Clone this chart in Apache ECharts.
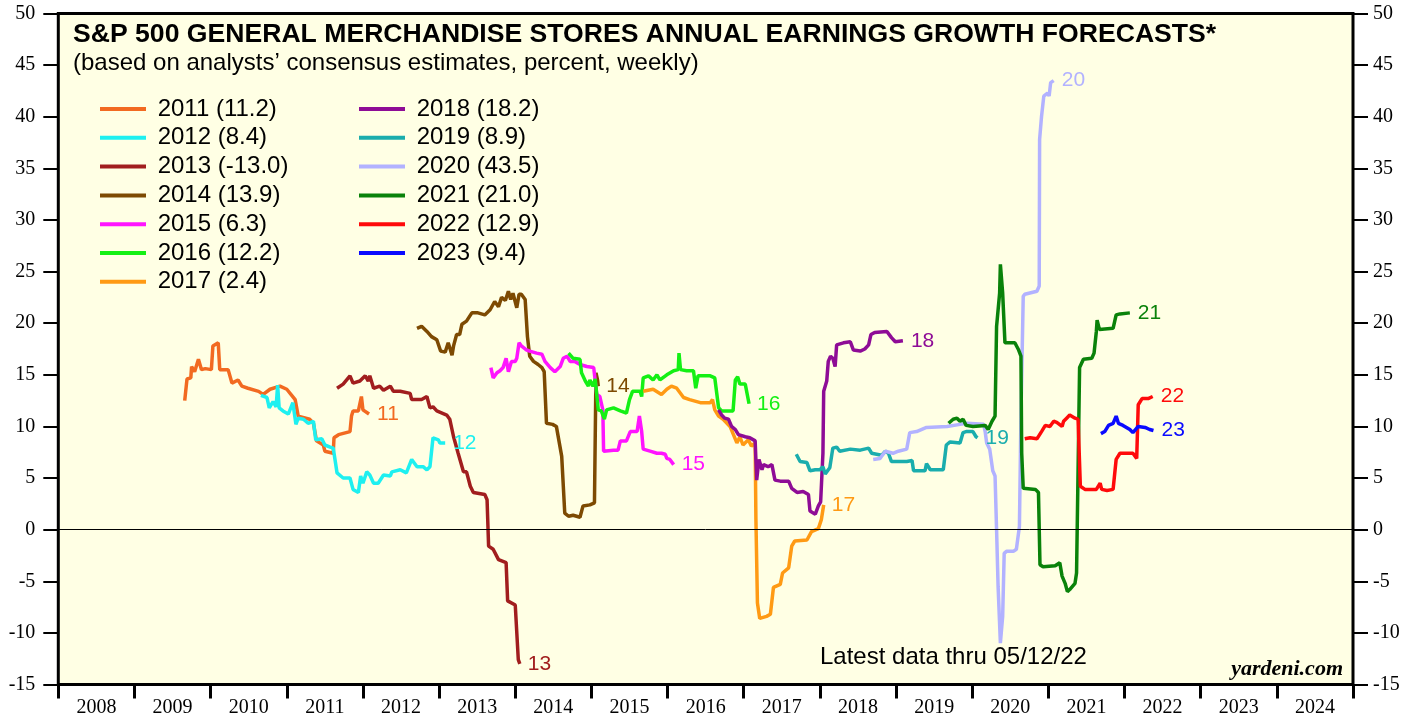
<!DOCTYPE html>
<html>
<head>
<meta charset="utf-8">
<script src="https://cdn.jsdelivr.net/npm/echarts@6/dist/echarts.min.js"></script>
<style>html, body { margin: 0; padding: 0; background: #fff; }</style>
</head>
<body>
<div id="main" style="width: 1421px; height: 719px"></div>
<script>
// x labels (one band per calendar year)
const yearLabels = ['2008', '2009', '2010', '2011', '2012', '2013', '2014', '2015', '2016',
                    '2017', '2018', '2019', '2020', '2021', '2022', '2023', '2024'];

const forecastYears = ['2011', '2012', '2013', '2014', '2015', '2016', '2017',
                       '2018', '2019', '2020', '2021', '2022', '2023'];
const finalValues = ['11.2', '8.4', '-13.0', '13.9', '6.3', '12.2', '2.4',
                     '18.2', '8.9', '43.5', '21.0', '12.9', '9.4'];

// [decimal year, growth forecast %]
const y2011 = [[2009.66,12.5],[2009.69,14.6],[2009.74,14.7],[2009.75,15.8],[2009.79,15.3],[2009.84,16.5],
  [2009.88,15.5],[2009.93,15.6],[2010.01,15.5],[2010.03,17.8],[2010.10,18.1],[2010.12,15.5],[2010.23,15.5],
  [2010.28,14.2],[2010.36,14.5],[2010.41,13.9],[2010.49,13.7],[2010.63,13.4],[2010.69,13.1],[2010.78,13.6],
  [2010.91,13.9],[2011.00,13.6],[2011.11,12.6],[2011.15,11.0],[2011.30,10.7],[2011.35,10.3],[2011.39,8.6],
  [2011.48,8.2],[2011.50,7.6],[2011.61,7.4],[2011.62,8.9],[2011.68,9.2],[2011.83,9.5],[2011.85,11.0],
  [2011.87,11.5],[2011.94,11.5],[2011.98,12.9],[2012.00,11.6],[2012.08,11.2]];

const y2012 = [[2010.66,13.0],[2010.74,12.8],[2010.77,11.8],[2010.82,12.4],[2010.86,11.9],[2010.88,14.0],
  [2010.90,11.8],[2010.95,11.5],[2011.02,11.2],[2011.08,12.3],[2011.12,10.2],[2011.15,10.8],[2011.22,10.7],
  [2011.28,10.3],[2011.35,10.5],[2011.38,8.7],[2011.46,8.8],[2011.50,8.2],[2011.57,8.0],[2011.61,7.9],
  [2011.66,5.5],[2011.74,5.0],[2011.83,5.0],[2011.87,3.9],[2011.94,3.6],[2011.97,5.2],[2012.00,4.5],
  [2012.05,5.6],[2012.09,5.3],[2012.14,4.5],[2012.20,4.5],[2012.27,5.3],[2012.36,5.2],[2012.38,5.6],
  [2012.49,5.8],[2012.57,5.5],[2012.64,6.8],[2012.71,6.1],[2012.79,6.1],[2012.84,5.8],[2012.88,6.1],
  [2012.92,8.9],[2012.99,8.7],[2013.01,8.4],[2013.08,8.4]];

const y2013 = [[2011.66,13.7],[2011.74,14.1],[2011.83,14.9],[2011.87,14.2],[2011.96,14.4],[2012.03,14.9],
  [2012.07,14.4],[2012.09,14.9],[2012.14,13.7],[2012.22,13.9],[2012.27,13.5],[2012.36,13.9],[2012.40,13.4],
  [2012.49,13.4],[2012.62,13.2],[2012.64,12.6],[2012.77,12.6],[2012.84,12.9],[2012.88,11.8],[2012.92,11.9],
  [2012.97,11.5],[2013.10,11.1],[2013.14,10.7],[2013.19,9.0],[2013.25,7.4],[2013.32,5.6],[2013.36,5.6],
  [2013.41,4.2],[2013.45,3.6],[2013.60,3.4],[2013.63,2.9],[2013.65,-1.6],[2013.71,-1.9],[2013.78,-2.9],
  [2013.88,-3.2],[2013.90,-6.9],[2014.00,-7.3],[2014.04,-12.6],[2014.06,-13.0]];

const y2014 = [[2012.71,19.5],[2012.77,19.7],[2012.84,19.2],[2012.90,18.7],[2012.97,18.4],[2013.02,17.3],
  [2013.08,17.2],[2013.12,18.1],[2013.17,16.9],[2013.19,17.8],[2013.23,18.9],[2013.27,18.9],[2013.30,19.9],
  [2013.36,20.2],[2013.43,21.0],[2013.51,21.0],[2013.60,20.8],[2013.67,21.3],[2013.73,22.1],[2013.78,21.6],
  [2013.82,22.5],[2013.87,22.2],[2013.91,23.1],[2013.94,22.3],[2013.97,22.9],[2014.02,21.5],[2014.05,22.8],
  [2014.08,22.8],[2014.13,22.3],[2014.16,18.7],[2014.19,16.8],[2014.24,16.3],[2014.30,16.0],[2014.35,15.7],
  [2014.38,15.3],[2014.41,10.3],[2014.49,10.2],[2014.54,10.0],[2014.61,7.1],[2014.65,1.6],[2014.70,1.3],
  [2014.76,1.4],[2014.85,1.2],[2014.89,2.3],[2014.98,2.4],[2015.04,2.6],[2015.06,15.2],[2015.08,14.5],
  [2015.09,13.9]];

const y2015 = [[2013.68,15.7],[2013.71,14.7],[2013.76,15.2],[2013.80,15.4],[2013.84,15.7],[2013.88,16.6],
  [2013.91,15.3],[2013.95,16.3],[2014.00,16.3],[2014.02,16.6],[2014.05,18.1],[2014.08,17.8],[2014.15,17.4],
  [2014.19,17.3],[2014.28,17.1],[2014.35,17.0],[2014.39,16.3],[2014.46,15.7],[2014.52,15.3],[2014.59,15.8],
  [2014.63,16.6],[2014.68,16.8],[2014.72,16.3],[2014.78,16.3],[2014.85,16.0],[2014.94,15.8],[2015.03,15.7],
  [2015.07,13.1],[2015.11,12.9],[2015.15,11.6],[2015.16,7.6],[2015.29,7.7],[2015.35,7.7],[2015.38,8.6],
  [2015.46,8.6],[2015.51,9.5],[2015.60,9.5],[2015.63,11.0],[2015.66,9.5],[2015.68,7.8],[2015.77,7.6],
  [2015.86,7.4],[2015.92,7.4],[2015.97,7.3],[2015.99,6.9],[2016.03,6.8],[2016.08,6.3]];

const y2016 = [[2014.70,17.1],[2014.76,16.6],[2014.85,16.5],[2014.87,15.2],[2014.92,14.4],[2014.96,13.9],
  [2014.98,14.5],[2015.02,13.9],[2015.05,14.6],[2015.09,11.6],[2015.13,11.5],[2015.17,10.7],[2015.20,11.6],
  [2015.29,11.8],[2015.38,11.5],[2015.46,11.3],[2015.50,12.6],[2015.54,13.4],[2015.64,13.4],[2015.66,12.9],
  [2015.68,14.7],[2015.75,14.9],[2015.81,14.5],[2015.86,15.0],[2015.90,14.5],[2015.99,15.0],[2016.08,15.4],
  [2016.14,15.5],[2016.15,17.1],[2016.17,15.5],[2016.25,15.4],[2016.34,15.4],[2016.37,13.7],[2016.40,14.9],
  [2016.56,14.9],[2016.62,14.7],[2016.67,11.8],[2016.71,11.5],[2016.86,11.5],[2016.89,14.5],[2016.92,14.8],
  [2016.95,14.1],[2017.02,14.1],[2017.07,12.2]];

const y2017 = [[2015.68,13.4],[2015.81,13.6],[2015.92,13.1],[2015.99,13.6],[2016.05,13.9],[2016.12,13.7],
  [2016.21,12.8],[2016.29,12.6],[2016.43,12.3],[2016.56,12.3],[2016.59,12.6],[2016.62,11.6],[2016.67,11.0],
  [2016.73,10.7],[2016.82,10.0],[2016.91,8.4],[2016.95,9.0],[2016.99,8.2],[2017.06,8.7],[2017.10,8.1],
  [2017.15,8.4],[2017.16,1.0],[2017.18,-7.1],[2017.21,-8.6],[2017.30,-8.4],[2017.35,-8.2],[2017.39,-5.6],
  [2017.48,-5.3],[2017.51,-4.2],[2017.59,-3.7],[2017.63,-1.6],[2017.67,-1.1],[2017.83,-1.0],[2017.89,-0.2],
  [2017.98,0.1],[2018.02,1.0],[2018.05,2.4]];

const y2018 = [[2016.67,11.6],[2016.71,11.1],[2016.75,10.8],[2016.80,10.7],[2016.84,10.0],[2016.89,9.7],
  [2016.93,9.2],[2017.02,9.0],[2017.08,8.9],[2017.15,8.6],[2017.17,4.8],[2017.20,6.8],[2017.24,5.8],
  [2017.26,6.3],[2017.32,6.1],[2017.37,6.3],[2017.41,4.8],[2017.48,4.7],[2017.59,4.7],[2017.63,4.0],
  [2017.70,3.6],[2017.78,3.7],[2017.85,3.4],[2017.87,1.8],[2017.94,1.5],[2017.98,2.3],[2018.01,2.7],
  [2018.04,7.4],[2018.05,13.4],[2018.09,14.4],[2018.11,16.3],[2018.14,16.8],[2018.17,16.6],[2018.20,15.8],
  [2018.22,17.9],[2018.31,18.1],[2018.40,18.2],[2018.44,17.4],[2018.53,17.3],[2018.59,17.5],[2018.64,17.9],
  [2018.67,18.9],[2018.72,19.1],[2018.88,19.2],[2018.94,18.6],[2018.99,18.2],[2019.09,18.3]];

const y2019 = [[2017.69,7.3],[2017.74,6.6],[2017.83,6.5],[2017.87,5.7],[2017.94,5.8],[2018.00,5.8],
  [2018.04,6.1],[2018.07,5.4],[2018.13,6.0],[2018.17,7.9],[2018.22,8.0],[2018.26,7.6],[2018.40,7.8],
  [2018.53,7.7],[2018.64,7.9],[2018.68,7.4],[2018.81,7.2],[2018.86,7.6],[2018.90,7.4],[2018.94,6.6],
  [2019.14,6.6],[2019.21,6.7],[2019.23,5.7],[2019.38,5.7],[2019.40,6.4],[2019.45,5.8],[2019.62,5.8],
  [2019.66,8.2],[2019.71,8.5],[2019.84,8.4],[2019.88,9.4],[2019.92,9.5],[2020.01,9.5],[2020.05,9.0],
  [2020.07,8.9]];

const y2020 = [[2018.70,6.8],[2018.79,6.9],[2018.82,7.2],[2018.86,7.6],[2018.96,7.4],[2019.03,7.6],
  [2019.14,7.8],[2019.18,9.4],[2019.27,9.5],[2019.40,9.9],[2019.67,10.0],[2019.84,10.2],[2019.93,10.3],
  [2020.15,10.2],[2020.17,9.5],[2020.19,8.4],[2020.23,7.8],[2020.27,5.7],[2020.30,5.2],[2020.32,0.0],
  [2020.34,-5.5],[2020.37,-11.0],[2020.40,-8.4],[2020.42,-2.3],[2020.45,-2.1],[2020.54,-2.1],[2020.58,-1.9],
  [2020.62,0.3],[2020.64,11.0],[2020.67,22.6],[2020.69,22.8],[2020.85,23.1],[2020.88,23.6],[2020.885,37.8],
  [2020.91,40.0],[2020.94,42.0],[2020.99,42.3],[2021.01,42.0],[2021.03,43.3],[2021.07,43.5]];

const y2021 = [[2019.69,10.3],[2019.75,10.7],[2019.80,10.8],[2019.84,10.5],[2019.88,10.7],[2019.92,10.1],
  [2020.01,10.0],[2020.17,10.1],[2020.21,9.7],[2020.26,10.5],[2020.30,11.0],[2020.32,19.7],[2020.36,22.9],
  [2020.37,25.7],[2020.40,22.9],[2020.43,18.1],[2020.56,18.1],[2020.61,17.4],[2020.64,16.8],[2020.65,7.4],
  [2020.67,4.0],[2020.83,3.9],[2020.87,3.6],[2020.89,-3.4],[2020.93,-3.6],[2021.09,-3.5],[2021.15,-3.2],
  [2021.18,-4.5],[2021.22,-5.2],[2021.25,-6.0],[2021.28,-5.8],[2021.35,-5.2],[2021.37,-4.2],[2021.41,15.7],
  [2021.46,16.5],[2021.57,16.6],[2021.60,17.1],[2021.63,19.2],[2021.64,20.3],[2021.67,19.4],[2021.85,19.5],
  [2021.89,20.8],[2021.94,20.9],[2022.07,21.0]];

const y2022 = [[2020.69,8.8],[2020.76,8.9],[2020.85,8.8],[2020.91,9.5],[2020.96,10.1],[2021.02,10.0],
  [2021.07,10.5],[2021.11,10.4],[2021.18,10.0],[2021.20,10.5],[2021.24,10.8],[2021.28,11.1],[2021.35,10.8],
  [2021.39,10.7],[2021.42,4.2],[2021.48,3.9],[2021.63,3.9],[2021.68,4.5],[2021.70,3.9],[2021.77,3.8],
  [2021.85,3.9],[2021.89,6.8],[2021.94,7.4],[2022.11,7.4],[2022.16,6.9],[2022.18,12.1],[2022.23,12.7],
  [2022.31,12.7],[2022.37,12.9]];

const y2023 = [[2021.69,9.3],[2021.74,9.5],[2021.79,10.1],[2021.85,10.3],[2021.89,11.0],[2021.92,10.3],
  [2021.98,10.1],[2022.07,9.7],[2022.11,9.4],[2022.18,10.0],[2022.27,9.9],[2022.33,9.7],[2022.38,9.6]];

const lineData = [y2011, y2012, y2013, y2014, y2015, y2016, y2017,
                  y2018, y2019, y2020, y2021, y2022, y2023];
const colors = ['#F26A21', '#1EF0F0', '#A11E1E', '#7D4A02', '#FF14FF', '#14F014', '#FF9A14',
                '#8E0C96', '#1AADAD', '#B2B2FF', '#0A820A', '#FF0A0A', '#0A0AFF'];

var chartDom = document.getElementById('main');
var myChart = echarts.init(chartDom);

const names = forecastYears.map((y, i) => y + ' (' + finalValues[i] + ')');

const series = lineData.map((d, i) => ({
    name: names[i],
    type: 'line',
    xAxisIndex: 1,
    yAxisIndex: 0,
    data: d,
    symbol: 'none',
    showSymbol: false,
    lineStyle: { width: 3.5, color: colors[i] },
    itemStyle: { color: colors[i] },
    endLabel: {
        show: true,
        formatter: forecastYears[i].slice(2),
        color: colors[i],
        fontSize: 21,
        fontFamily: 'Liberation Sans',
        distance: 8
    }
}));

// zero line
series[0].markLine = {
    silent: true,
    symbol: 'none',
    label: { show: false },
    lineStyle: { color: '#000', width: 1, type: 'solid' },
    data: [{ yAxis: 0 }]
};

const legendBase = {
    orient: 'vertical',
    top: 97,
    padding: 0,
    icon: 'rect',
    itemWidth: 46,
    itemHeight: 4,
    itemGap: 4.8,
    selectedMode: false,
    formatter: n => ' ' + n,
    textStyle: { fontSize: 24, lineHeight: 24, color: '#000', fontFamily: 'Liberation Sans' }
};

const yAxisBase = {
    type: 'value',
    min: -15,
    max: 50,
    interval: 5,
    splitLine: { show: false },
    axisLine: { show: false },
    axisTick: { show: true, length: 15, lineStyle: { color: '#000', width: 2 } }
};

option = {
    animation: false,
    backgroundColor: '#fff',
    title: [
        {
            text: 'S&P 500 GENERAL MERCHANDISE STORES ANNUAL EARNINGS GROWTH FORECASTS*',
            subtext: '(based on analysts’ consensus estimates, percent, weekly)',
            left: 73, top: 21, padding: 0, itemGap: 3,
            textStyle: { fontSize: 26.6, fontWeight: 'bold', color: '#000', fontFamily: 'Liberation Sans' },
            subtextStyle: { fontSize: 24, color: '#000', fontFamily: 'Liberation Sans' }
        },
        {
            text: 'Latest data thru 05/12/22',
            left: 820, top: 645, padding: 0,
            textStyle: { fontSize: 24, fontWeight: 'normal', color: '#000', fontFamily: 'Liberation Sans' }
        },
        {
            text: 'yardeni.com',
            right: 78, top: 658, padding: 0,
            textStyle: { fontSize: 22, fontWeight: 'bold', fontStyle: 'italic', color: '#000', fontFamily: 'Liberation Serif' }
        }
    ],
    legend: [
        Object.assign({}, legendBase, { left: 100, data: names.slice(0, 7) }),
        Object.assign({}, legendBase, { left: 359, data: names.slice(7) })
    ],
    grid: {
        left: 58.3, right: 68, top: 13.5, bottom: 34.5,
        show: true,
        backgroundColor: '#FFFFE4',
        borderColor: '#000',
        borderWidth: 3
    },
    xAxis: [
        {
            type: 'category',
            data: yearLabels,
            boundaryGap: true,
            position: 'bottom',
            axisLine: { show: false, onZero: false },
            axisTick: { show: true, interval: 0, length: 14, lineStyle: { color: '#000', width: 3 } },
            axisLabel: { interval: 0, margin: 13, color: '#000', fontSize: 20, fontFamily: 'Liberation Serif' },
            splitLine: { show: false }
        },
        {
            type: 'value',
            min: 2008,
            max: 2025,
            show: false
        }
    ],
    yAxis: [
        Object.assign({}, yAxisBase, {
            position: 'left',
            axisLabel: { margin: 23, color: '#000', fontSize: 20, fontFamily: 'Liberation Serif' }
        }),
        Object.assign({}, yAxisBase, {
            position: 'right',
            axisLabel: { margin: 20, color: '#000', fontSize: 20, fontFamily: 'Liberation Serif' }
        })
    ],
    series: series
};

option && myChart.setOption(option);
</script>
</body>
</html>
